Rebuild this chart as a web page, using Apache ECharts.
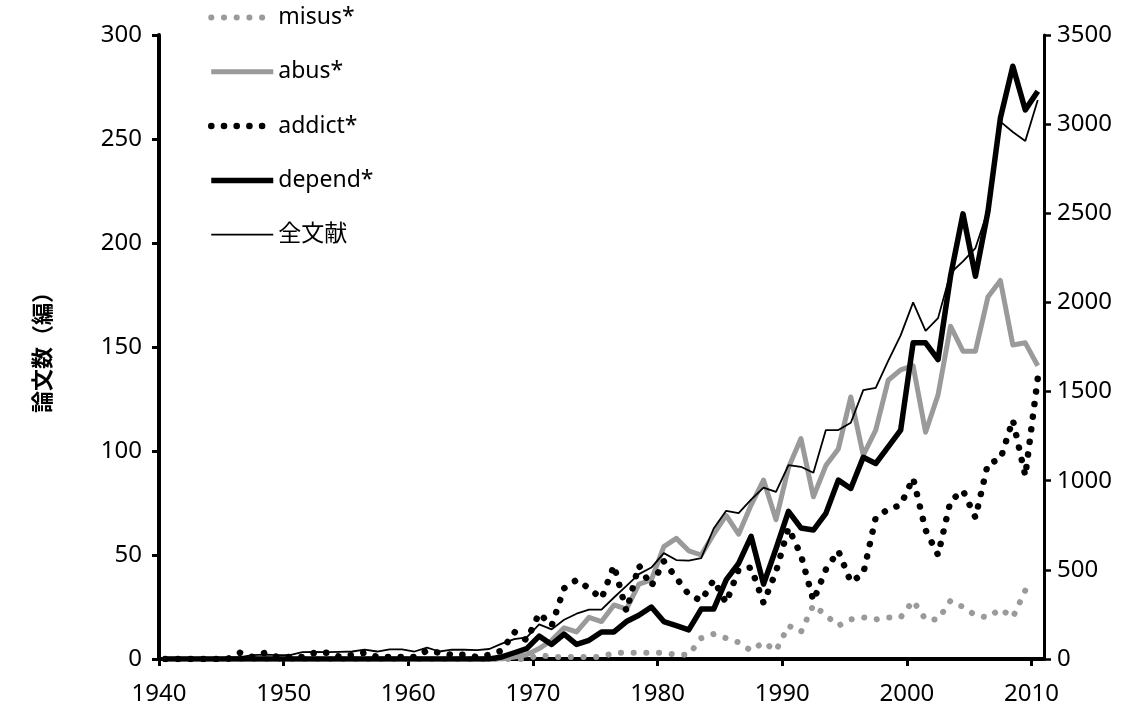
<!DOCTYPE html>
<html>
<head>
<meta charset="utf-8">
<script src="https://cdn.jsdelivr.net/npm/echarts@6/dist/echarts.min.js"></script>
<style>
  html, body { margin: 0; padding: 0; background: #ffffff; }
  #chart { width: 1136px; height: 711px; }
</style>
</head>
<body>
<div id="chart"></div>
<script>
// Yearly paper counts, 1940-2010
const firstYear = 1940;
const lastYear = 2010;
const xTickLabels = [1940, 1950, 1960, 1970, 1980, 1990, 2000, 2010];

// left axis (papers per keyword)
const misus = [
  0,0,0,0,0,0,0,0,0,0,            // 1940-1949
  0,0,0,0,0,0,0,0,0,0,            // 1950-1959
  0,0,0,0,0,0,0,0,0,0,            // 1960-1969
  2,1,1,1,1,1,3,3,3,3,            // 1970-1979
  3,2,2,10,12,10,8,4,8,4,         // 1980-1989
  16,13,26,21,16,19,20,19,20,20,  // 1990-1999
  28,19,19,28,25,21,20,24,20,33,  // 2000-2009
  null                            // 2010
];
const abus = [
  0,0,0,0,0,0,0,0,0,0,
  0,0,0,0,0,0,0,0,0,0,
  0,0,0,0,0,0,0,0,1,2,
  5,9,15,13,20,18,26,24,36,38,
  54,58,52,50,60,69,60,74,86,67,
  92,106,78,93,101,126,98,110,134,139,
  141,109,127,160,148,148,174,182,151,152,
  141
];
const addict = [
  0,0,0,0,0,0,3,1,3,1,
  1,1,3,3,1,2,3,1,1,1,
  1,4,3,2,2,1,2,4,13,9,
  22,16,34,38,34,29,45,23,45,35,
  47,39,31,28,38,27,43,44,27,42,
  63,50,28,43,52,37,41,68,72,74,
  87,62,50,76,81,68,94,96,115,88,
  135
];
const depend = [
  0,0,0,0,0,0,0,0,0,0,
  0,0,0,0,0,0,0,0,0,0,
  0,0,0,0,0,0,0,1,3,5,
  11,7,12,7,9,13,13,18,21,25,
  18,16,14,24,24,38,46,59,36,53,
  71,63,62,70,86,82,97,94,102,110,
  152,152,144,184,214,184,215,260,285,264,
  273
];
// right axis (all papers)
const total = [
  5,5,6,4,5,8,10,22,24,22,
  22,38,40,38,40,42,52,42,54,54,
  42,64,42,52,52,50,56,86,112,121,
  194,166,220,254,277,277,345,410,476,513,
  594,555,552,566,732,831,818,894,961,937,
  1088,1078,1045,1284,1284,1325,1508,1521,1672,1815,
  2000,1841,1912,2165,2230,2305,2515,3014,2956,2906,
  3135
];

const years = [];
for (let y = firstYear; y <= lastYear; y++) years.push(y);

// each year's count sits in the middle of its one-year slot on the axis
function toPoints(values) {
  return years.map((y, i) => [y + 0.5, values[i]]);
}

const latin = "'Noto Sans', 'Noto Sans CJK JP', sans-serif";
const gray = '#9a9a9a';
const roundDots = [0.1, 12.6];
const plain = v => String(v);

const chart = echarts.init(document.getElementById('chart'), null, { renderer: 'canvas' });

chart.setOption({
  animation: false,
  backgroundColor: '#ffffff',
  textStyle: { fontFamily: latin, color: '#000' },
  grid: { left: 159, right: 92, top: 35, bottom: 52, containLabel: false },
  legend: {
    orient: 'vertical',
    left: 208,
    top: 6,
    padding: 0,
    itemWidth: 62,
    itemHeight: 20,
    itemGap: 31.3,
    itemStyle: { opacity: 0 },
    lineStyle: { width: 'inherit' },
    textStyle: { fontFamily: latin, fontSize: 23, color: '#000', lineHeight: 20 },
    data: ['misus*', 'abus*', 'addict*', 'depend*', '全文献']
  },
  xAxis: {
    type: 'value',
    min: 1940,
    max: 2011,
    interval: 10,
    splitLine: { show: false },
    axisLine: { show: true, onZero: false, lineStyle: { color: '#000', width: 4 } },
    axisTick: { show: true, length: 7, customValues: xTickLabels, lineStyle: { color: '#000', width: 3 } },
    axisLabel: { customValues: xTickLabels, formatter: plain, fontSize: 24, margin: 23, color: '#000', fontFamily: latin }
  },
  yAxis: [
    {
      type: 'value',
      min: 0,
      max: 300,
      interval: 50,
      position: 'left',
      name: '論文数（編）',
      nameLocation: 'middle',
      nameRotate: 90,
      nameGap: 106,
      nameTextStyle: { fontFamily: "'Noto Sans CJK JP', sans-serif", fontWeight: 'bold', fontSize: 22, color: '#000' },
      splitLine: { show: false },
      axisLine: { show: true, lineStyle: { color: '#000', width: 4 } },
      axisTick: { show: true, length: 7, lineStyle: { color: '#000', width: 3 } },
      axisLabel: { formatter: plain, fontSize: 24, margin: 17, color: '#000', fontFamily: latin }
    },
    {
      type: 'value',
      min: 0,
      max: 3500,
      interval: 500,
      position: 'right',
      splitLine: { show: false },
      axisLine: { show: true, lineStyle: { color: '#000', width: 3 } },
      axisTick: { show: true, length: 7, lineStyle: { color: '#000', width: 2.5 } },
      axisLabel: { formatter: plain, fontSize: 24, margin: 13, color: '#000', fontFamily: latin }
    }
  ],
  series: [
    {
      name: 'misus*', type: 'line', yAxisIndex: 0, symbol: 'none',
      data: toPoints(misus),
      lineStyle: { color: gray, width: 6, type: roundDots, cap: 'round', join: 'round' },
      itemStyle: { color: gray }
    },
    {
      name: 'abus*', type: 'line', yAxisIndex: 0, symbol: 'none',
      data: toPoints(abus),
      lineStyle: { color: gray, width: 5, join: 'round' },
      itemStyle: { color: gray }
    },
    {
      name: 'addict*', type: 'line', yAxisIndex: 0, symbol: 'none',
      data: toPoints(addict),
      lineStyle: { color: '#000', width: 6.5, type: roundDots, cap: 'round', join: 'round' },
      itemStyle: { color: '#000' }
    },
    {
      name: 'depend*', type: 'line', yAxisIndex: 0, symbol: 'none',
      data: toPoints(depend),
      lineStyle: { color: '#000', width: 5.5, join: 'round' },
      itemStyle: { color: '#000' }
    },
    {
      name: '全文献', type: 'line', yAxisIndex: 1, symbol: 'none',
      data: toPoints(total),
      lineStyle: { color: '#000', width: 1.8 },
      itemStyle: { color: '#000' }
    }
  ]
});
</script>
</body>
</html>
